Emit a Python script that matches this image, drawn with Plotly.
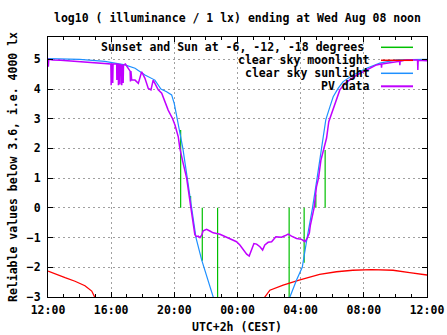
import plotly.graph_objects as go

# Hours after 12:00 local time (CEST) on the first day, 0 .. 24
TICK_HOURS = [0, 4, 8, 12, 16, 20, 24]
TICK_LABELS = ["12:00", "16:00", "20:00", "00:00", "04:00", "08:00", "12:00"]
Y_TICKS = [-3, -2, -1, 0, 1, 2, 3, 4, 5]

# Sun events: sunset, -6, -12, -18 degrees (evening) and back (morning)
SUN_EVENT_HOURS = [8.40, 9.03, 9.77, 10.74, 15.27, 16.22, 16.96, 17.55]
SUN_EVENT_TOPS = [2.62, 0.40, -1.78, -3.0, -3.0, -1.85, 0.45, 1.95]

# Clear sky moonlight, log10(lx)
MOON_HOURS = [0.0, 0.44, 1.08, 1.71, 2.34, 2.77, 2.97, 3.05, None,
              13.65, 13.73, 14.05, 14.89, 15.9, 16.6, 17.2, 18.27, 19.3,
              20.5, 21.85, 22.9, 23.86, 24.0]
MOON_LOG = [-2.13, -2.23, -2.35, -2.47, -2.62, -2.80, -3.0, -3.1, None,
            -3.1, -3.0, -2.77, -2.60, -2.43, -2.32, -2.24, -2.15, -2.10,
            -2.08, -2.10, -2.18, -2.24, -2.26]

# Clear sky sunlight, log10(lx)
SUN_HOURS = [0.0, 2.0, 3.6, 4.87, 5.51, 6.14, 6.77, 7.15, 7.51, 7.83, 8.0,
             8.19, 8.54, 8.82, 9.09, 9.37, 9.73, 10.15, 10.46, 10.55, None,
             15.25, 15.32, 15.74, 16.1, 16.41, 16.75, 17.04, 17.32, 17.59,
             17.85, 18.06, 18.37, 18.69, 19.32, 20.17, 21.01, 22.07, 24.0]
SUN_LOG = [5.02, 5.0, 4.93, 4.81, 4.70, 4.47, 4.30, 4.0, 3.91, 3.80, 3.5,
           3.0, 2.0, 1.0, 0.0, -1.0, -1.75, -2.43, -3.0, -3.15, None,
           -3.15, -3.0, -2.43, -2.0, -1.0, 0.0, 1.0, 2.0, 2.96,
           3.40, 3.74, 4.02, 4.25, 4.47, 4.70, 4.87, 4.98, 5.0]

# Measured PV-derived illuminance, log10(lx)
PV_HOURS = [0.00, 0.02, 0.05, 0.3, 0.8, 1.3, 1.9, 2.5, 3.0, 3.5, 3.85,
            3.98, 4.0, 4.02, 4.08, 4.1, 4.12, 4.35, 4.36, 4.38, 4.45, 4.46,
            4.48, 4.55, 4.56, 4.58, 4.66, 4.67, 4.69, 4.75, 4.76, 4.78, 4.9,
            5.08, 5.2, 5.22, 5.25, 5.3, 5.51, 5.72, 5.93, 6.14, 6.35, 6.52,
            6.66, 6.77, 6.98, 7.2, 7.41, 7.61, 7.89, 8.04, 8.25, 8.35, 8.56,
            8.78, 9.05, 9.2, 9.30, 9.4, 9.51, 9.62, 9.73, 9.83, 10.04, 10.25,
            10.46, 10.89, 11.31, 11.63, 11.94, 12.15, 12.36, 12.58, 12.74,
            12.89, 13.04, 13.21, 13.42, 13.59, 13.73, 13.94, 14.16, 14.43,
            14.79, 15.0, 15.21, 15.42, 15.74, 16.06, 16.27, 16.41, 16.55,
            16.61, 16.75, 16.85, 17.0, 17.13, 17.28, 17.47, 17.64, 17.78,
            18.06, 18.27, 18.48, 18.8, 19.11, 19.54, 19.96, 20.38, 20.8,
            21.1, 21.12, 21.14, 21.44, 21.8, 22.07, 22.27, 22.28, 22.3,
            22.7, 23.0, 23.4, 23.42, 23.44, 23.7, 24.0]
PV_LOG = [5.03, 4.75, 5.0, 4.98, 4.97, 4.95, 4.92, 4.90, 4.87, 4.86, 4.84,
          4.84, 4.13, 4.84, 4.84, 4.2, 4.84, 4.84, 4.3, 4.83, 4.83, 4.13,
          4.82, 4.82, 4.15, 4.82, 4.8, 4.13, 4.8, 4.8, 4.2, 4.8, 4.84,
          4.70, 4.6, 4.25, 4.6, 4.3, 4.3, 4.19, 4.58, 4.36, 4.02, 3.97,
          4.30, 4.19, 3.97, 3.86, 3.57, 3.29, 3.0, 2.79, 2.39, 2.0, 1.5,
          1.0, 0.0, -0.5, -0.9, -0.97, -0.95, -1.0, -0.92, -0.77, -0.72, -0.78,
          -0.84, -0.89, -1.0, -1.06, -1.14, -1.25, -1.42, -1.56, -1.62,
          -1.42, -1.2, -1.22, -1.31, -1.42, -1.25, -1.16, -1.14, -0.97,
          -0.99, -0.94, -0.88, -0.95, -1.03, -1.06, -1.14, -1.03, -0.85,
          -0.6, -0.30, 0.0, 0.71, 1.0, 1.6, 2.0, 2.35, 2.9,
          3.35, 3.69, 3.97, 4.19, 4.30, 4.47, 4.58, 4.70, 4.81,
          4.84, 4.72, 4.84, 4.87, 4.9, 4.92, 4.93, 4.8, 4.93,
          4.98, 4.97, 4.98, 4.64, 4.97, 4.96, 4.95]

LEGEND_LABELS = ["Sunset and Sun at -6, -12, -18 degrees", "clear sky moonlight",
                 "clear sky sunlight", "PV data"]

GREEN, RED, BLUE, MAGENTA = "#00c000", "#ff0000", "#1e90ff", "#c000ff"
FONT = "DejaVu Sans Mono"

# vertical impulse segments from 0 to each event's level
ev_x, ev_y = [], []
for h, top in zip(SUN_EVENT_HOURS, SUN_EVENT_TOPS):
    ev_x += [h, h, None]
    ev_y += [0, top, None]

fig = go.Figure()
fig.add_trace(go.Scatter(x=ev_x, y=ev_y, mode="lines",
                         line=dict(color=GREEN, width=1.2), hoverinfo="skip"))
fig.add_trace(go.Scatter(x=MOON_HOURS, y=MOON_LOG, mode="lines",
                         line=dict(color=RED, width=1.3)))
fig.add_trace(go.Scatter(x=SUN_HOURS, y=SUN_LOG, mode="lines",
                         line=dict(color=BLUE, width=1.2)))
fig.add_trace(go.Scatter(x=PV_HOURS, y=PV_LOG, mode="lines",
                         line=dict(color=MAGENTA, width=1.5)))

# key: right-aligned text with line samples on the right
L, R, T, B = 48, 427, 37, 297
W, H = R - L, B - T
def px(xp):
    return (xp - L) / W
def py(yp):
    return (B - yp) / H

key_y = [47.3, 60.3, 73.3, 86.3]
key_right = [366, 372, 372, 372]
key_cols = [GREEN, RED, BLUE, MAGENTA]
annotations = []
shapes = []
for label, yk, xr, col in zip(LEGEND_LABELS, key_y, key_right, key_cols):
    annotations.append(dict(x=px(xr), y=py(yk), xref="paper", yref="paper",
                            text=label, showarrow=False, xanchor="right",
                            yanchor="middle",
                            font=dict(family=FONT, size=11.5, color="black",
                                      weight="bold")))
    shapes.append(dict(type="line", xref="paper", yref="paper",
                       x0=px(381), x1=px(413), y0=py(yk), y1=py(yk),
                       line=dict(color=col, width=1.5 if col != MAGENTA else 2)))

annotations.append(dict(x=px(13), y=0.5, xref="paper", yref="paper",
                        text="Reliable values below 3.6, i.e. 4000 lx",
                        textangle=-90, showarrow=False, xanchor="center",
                        yanchor="middle",
                        font=dict(family=FONT, size=11.5, color="black",
                                  weight="bold")))
annotations.append(dict(x=px(237), y=py(327), xref="paper", yref="paper",
                        text="UTC+2h (CEST)", showarrow=False,
                        xanchor="center", yanchor="middle",
                        font=dict(family=FONT, size=11.5, color="black",
                                  weight="bold")))

axis_common = dict(showline=True, linecolor="black", linewidth=1, mirror="allticks",
                   ticks="inside", tickcolor="black", ticklen=5, tickwidth=1,
                   showgrid=True, gridcolor="#a0a0a0", gridwidth=1,
                   griddash="2px,3px", zeroline=False, automargin=False,
                   tickfont=dict(family=FONT, size=11.5, color="black",
                                 weight="bold"))

fig.update_layout(
    width=447, height=335,
    margin=dict(l=L, r=447 - R, t=T, b=335 - B, autoexpand=False),
    paper_bgcolor="white", plot_bgcolor="white",
    showlegend=False,
    title=dict(text="log10 ( illuminance / 1 lx) ending at Wed Aug 08 noon",
               x=px(237.5), xref="paper", xanchor="center",
               y=1 - 18 / 335, yanchor="middle",
               font=dict(family=FONT, size=11.5, color="black", weight="bold")),
    xaxis=dict(range=[0, 24], tickvals=TICK_HOURS, ticktext=TICK_LABELS,
               minor=dict(dtick=1, tick0=0, ticks="inside", ticklen=3,
                          tickcolor="black", showgrid=False),
               ticklabelstandoff=2, **axis_common),
    yaxis=dict(range=[-3, 5.75], tickvals=Y_TICKS, ticklabelstandoff=4,
               **axis_common),
    annotations=annotations,
    shapes=shapes,
)

fig.write_html("out.html")
